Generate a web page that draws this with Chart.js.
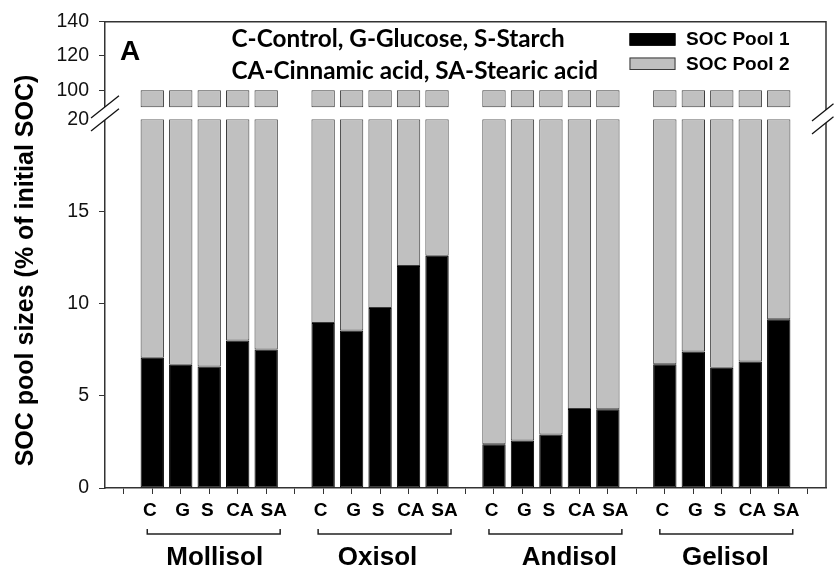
<!DOCTYPE html>
<html>
<head>
<meta charset="utf-8">
<script src="https://cdn.jsdelivr.net/npm/chart.js@4.4.1/dist/chart.umd.min.js"></script>
<style>
  html, body { margin: 0; padding: 0; background: #fff; }
  #wrap { width: 836px; height: 569px; position: relative; }
</style>
</head>
<body>
<div id="wrap"><canvas id="c" width="836" height="569"></canvas></div>
<script>
// ---- data ----
const treatments = ['C', 'G', 'S', 'CA', 'SA'];
const soils = ['Mollisol', 'Oxisol', 'Andisol', 'Gelisol'];

// SOC pool 1 (% of initial SOC), one value per treatment
const mollisolPool1 = [7.06, 6.68, 6.59, 8.00, 7.51];
const oxisolPool1   = [8.95, 8.54, 9.77, 12.04, 12.60];
const andisolPool1  = [2.38, 2.58, 2.90, 4.29, 4.27];
const gelisolPool1  = [6.72, 7.41, 6.52, 6.86, 9.15];

// SOC pool 2 (% of initial SOC)
const mollisolPool2 = [92.94, 93.32, 93.41, 92.00, 92.49];
const oxisolPool2   = [91.05, 91.46, 90.23, 87.96, 87.40];
const andisolPool2  = [97.62, 97.42, 97.10, 95.71, 95.73];
const gelisolPool2  = [93.28, 92.59, 93.48, 93.14, 90.85];

const lowerTicks = [0, 5, 10, 15, 20];
const upperTicks = [100, 120, 140];

const legendLabels = ['SOC Pool 1', 'SOC Pool 2'];
const noteLines = ['C-Control, G-Glucose, S-Starch', 'CA-Cinnamic acid, SA-Stearic acid'];
const panelLetter = 'A';
const axisTitle = 'SOC pool sizes (% of initial SOC)';

// ---- broken axis: lower panel 0–20, upper panel 90–140 ----
const LOWER_MAX = 20;
const UPPER_MIN = 90;

const pool1Sets = [mollisolPool1, oxisolPool1, andisolPool1, gelisolPool1];
const pool2Sets = [mollisolPool2, oxisolPool2, andisolPool2, gelisolPool2];

// one empty slot before each soil group and one at the end
const groupSize = treatments.length + 1;
const slotCount = soils.length * groupSize + 1;
const slotOf = (g, t) => 1 + g * groupSize + t;

const pool1Points = [], pool2Lower = [], pool2Upper = [];
soils.forEach((soil, g) => {
  treatments.forEach((tr, t) => {
    const x = slotOf(g, t);
    const p1 = pool1Sets[g][t];
    const total = p1 + pool2Sets[g][t];
    pool1Points.push({ x, y: [0, p1] });
    pool2Lower.push({ x, y: [p1, Math.min(total, LOWER_MAX)] });
    pool2Upper.push({ x, y: [Math.max(p1, UPPER_MIN), total] });
  });
});

const ARIAL = "'Liberation Sans', Arial, sans-serif";
const AXIS_COLOR = '#333';
const BLACK = '#000000';
const GREY = '#c0c0c0';
const GREY_EDGE = '#3a3a3a';

const barStyle = {
  borderWidth: 1,
  borderSkipped: false,
  grouped: false,
  barPercentage: 0.82,
  categoryPercentage: 1.0
};

const axisGrid = {
  drawOnChartArea: false,
  drawTicks: true,
  tickLength: 6,
  color: AXIS_COLOR,
  lineWidth: 1,
  offset: false
};
const axisBorder = { display: true, color: AXIS_COLOR, width: 1.5 };
const yTickFont = { family: ARIAL, size: 19.5 };

// ---- extra drawing: frame, axis breaks, treatment labels, group brackets, notes, legend ----
const decorations = {
  id: 'decorations',
  afterDraw(chart) {
    const { ctx, chartArea: a, scales } = chart;
    const xs = scales.x, yLow = scales.y, yTop = scales.yTop;
    ctx.save();

    // top and right frame
    ctx.strokeStyle = AXIS_COLOR;
    ctx.lineWidth = 1.5;
    ctx.beginPath();
    ctx.moveTo(a.left, a.top);
    ctx.lineTo(a.right, a.top);
    ctx.lineTo(a.right, a.bottom);
    ctx.stroke();

    // axis break marks
    const gapMid = (yTop.getPixelForValue(UPPER_MIN) + yLow.top) / 2;
    const drawBreak = (xc, yc, dx0, dx1) => {
      const slope = -0.8, half = 6.5;
      const yAt = (off, dx) => yc + off + slope * dx;
      ctx.fillStyle = '#fff';
      ctx.beginPath();
      ctx.moveTo(xc + dx0, yAt(-half, dx0));
      ctx.lineTo(xc + dx1, yAt(-half, dx1));
      ctx.lineTo(xc + dx1, yAt(half, dx1));
      ctx.lineTo(xc + dx0, yAt(half, dx0));
      ctx.closePath();
      ctx.fill();
      ctx.strokeStyle = '#111';
      ctx.lineWidth = 1.3;
      [-half, half].forEach(off => {
        ctx.beginPath();
        ctx.moveTo(xc + dx0, yAt(off, dx0));
        ctx.lineTo(xc + dx1, yAt(off, dx1));
        ctx.stroke();
      });
    };
    drawBreak(a.left, gapMid, -14, 14);
    drawBreak(a.right, gapMid + 3, -14, 7.5);

    // treatment labels under the ticks
    const labelShift = [-2.4, 2, -2, 2.3, 7.5];
    ctx.fillStyle = '#000';
    ctx.font = `bold 19px ${ARIAL}`;
    ctx.textAlign = 'center';
    ctx.textBaseline = 'alphabetic';
    soils.forEach((soil, g) => {
      treatments.forEach((tr, t) => {
        ctx.fillText(tr, xs.getPixelForValue(slotOf(g, t)) + labelShift[t], a.bottom + 27.7);
      });
    });

    // soil group brackets and names
    const nameShift = [1, -7, 14, -1];
    ctx.strokeStyle = '#222';
    ctx.lineWidth = 1.5;
    ctx.font = `bold 26px ${ARIAL}`;
    soils.forEach((soil, g) => {
      const l = xs.getPixelForValue(slotOf(g, 0)) - 5;
      const r = xs.getPixelForValue(slotOf(g, treatments.length - 1)) + 14;
      const yb = a.bottom + 46;
      ctx.beginPath();
      ctx.moveTo(l, yb - 5);
      ctx.lineTo(l, yb);
      ctx.lineTo(r, yb);
      ctx.lineTo(r, yb - 5);
      ctx.stroke();
      ctx.fillText(soil, (l + r) / 2 + nameShift[g], a.bottom + 76.5);
    });

    // panel letter
    ctx.textAlign = 'left';
    ctx.font = `bold 28px ${ARIAL}`;
    ctx.fillText(panelLetter, a.left + 15, a.top + 38);

    // treatment key
    ctx.font = "bold 24.3px Lato, 'Open Sans', sans-serif";
    ctx.fillText(noteLines[0], 231.5, a.top + 25);
    ctx.fillText(noteLines[1], 231.5, a.top + 57);

    // legend
    const ds = chart.data.datasets;
    ctx.font = `bold 19px ${ARIAL}`;
    ctx.textBaseline = 'middle';
    legendLabels.forEach((lab, i) => {
      const bx = 629.5, by = a.top + 11.5 + i * 24.3;
      ctx.fillStyle = ds[i].backgroundColor;
      ctx.fillRect(bx, by, 46, 12.5);
      ctx.strokeStyle = ds[i].borderColor;
      ctx.lineWidth = 1;
      ctx.strokeRect(bx + 0.5, by + 0.5, 45, 11.5);
      ctx.fillStyle = '#000';
      ctx.fillText(lab, 686, by + 6.8);
    });

    // y axis title
    ctx.translate(33, 270.5);
    ctx.rotate(-Math.PI / 2);
    ctx.textAlign = 'center';
    ctx.textBaseline = 'alphabetic';
    ctx.font = `bold 25px ${ARIAL}`;
    ctx.fillStyle = '#000';
    ctx.fillText(axisTitle, 0, 0);

    ctx.restore();
  }
};

new Chart(document.getElementById('c'), {
  type: 'bar',
  data: {
    datasets: [
      { label: legendLabels[0], data: pool1Points, yAxisID: 'y',
        backgroundColor: BLACK, borderColor: BLACK, ...barStyle },
      { label: legendLabels[1], data: pool2Lower, yAxisID: 'y',
        backgroundColor: GREY, borderColor: GREY_EDGE, ...barStyle },
      { label: legendLabels[1], data: pool2Upper, yAxisID: 'yTop',
        backgroundColor: GREY, borderColor: GREY_EDGE, ...barStyle }
    ]
  },
  options: {
    responsive: false,
    devicePixelRatio: 1,
    animation: false,
    layout: { padding: { top: 20, right: 10, left: 0, bottom: 0 } },
    plugins: {
      legend: { display: false },
      tooltip: { enabled: false },
      title: { display: false }
    },
    scales: {
      x: {
        type: 'linear',
        min: -0.66,
        max: slotCount - 1 + 0.66,
        offset: false,
        afterBuildTicks: s => {
          s.ticks = Array.from({ length: slotCount }, (_, i) => ({ value: i }));
        },
        afterFit: s => { s.height = 81; },
        grid: axisGrid,
        border: axisBorder,
        ticks: { autoSkip: false, maxRotation: 0, minRotation: 0, callback: () => '' }
      },
      y: {
        type: 'linear',
        position: 'left',
        stack: 'soc',
        stackWeight: 370,
        weight: 0,
        min: 0,
        max: LOWER_MAX,
        afterBuildTicks: s => { s.ticks = lowerTicks.map(v => ({ value: v })); },
        afterFit: s => { s.width = 105; },
        grid: axisGrid,
        border: axisBorder,
        ticks: { padding: 10, color: '#111', font: yTickFont }
      },
      yTop: {
        type: 'linear',
        position: 'left',
        stack: 'soc',
        stackWeight: 98,
        weight: 1,
        min: 83,   // leaves a small blank band above the lower panel
        max: 140,
        afterBuildTicks: s => { s.ticks = upperTicks.map(v => ({ value: v })); },
        afterFit: s => { s.width = 105; },
        grid: axisGrid,
        border: axisBorder,
        ticks: { padding: 10, color: '#111', font: yTickFont }
      }
    }
  },
  plugins: [decorations]
});
</script>
</body>
</html>
